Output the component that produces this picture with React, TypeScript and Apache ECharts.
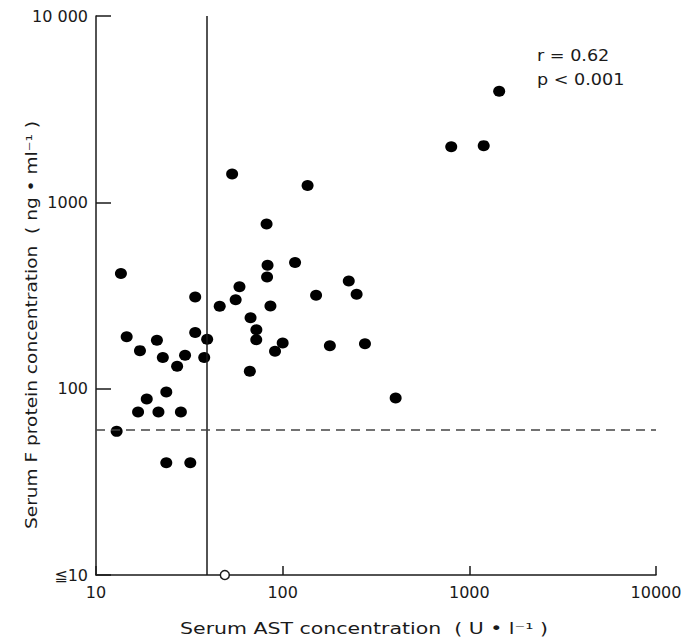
import React, { useEffect, useRef } from "react";
import * as echarts from "echarts";

// Serum AST concentration (U/l) for each patient (filled dots)
const astValues = [
  13.6, 34, 14.6, 21.2, 34, 39.4, 17.2, 22.8, 30, 38, 27.2, 23.8, 18.7, 16.8, 21.6,
  28.5, 12.9, 23.8, 32, 46, 56, 58.7, 83, 82.5, 116.5, 86, 67.3, 72.3, 72.2, 100,
  91, 66.7, 151, 179, 53.6, 136, 82, 226, 249, 276, 403, 800, 1194, 1445,
];
// Serum F protein concentration (ng/ml) for each patient (filled dots)
const proteinValues = [
  415, 310, 190, 182, 200, 184, 160, 147, 151, 147, 132, 96, 88, 75, 75,
  75, 59, 40, 40, 277, 300, 352, 459, 397, 475, 278, 240, 207, 183, 176,
  159, 124, 317, 170, 1420, 1230, 765, 378, 321, 174, 89, 1990, 2015, 3950,
];
// Open circle (value at or below detection limit)
const openAst = [49];
const openProtein = [10];

const xTickLabels = ["10", "100", "1000", "10000"];
const yTickLabels = ["\u226610", "100", "1000", "10 000"];

const astUpperLimit = 39;
const proteinCutoff = 60;
const statsLines = ["r = 0.62", "p < 0.001"];

const xTitle = "Serum AST concentration  ( U \u2022 l\u207B\u00B9 )";
const yTitle = "Serum F protein concentration  ( ng \u2022 ml\u207B\u00B9 )";

const FONT = "DejaVu Sans, sans-serif";
const INK = "#1a1a1a";

export default function App() {
  const ref = useRef<HTMLDivElement>(null);

  useEffect(() => {
    if (!ref.current) return;
    const chart = echarts.init(ref.current, undefined, { renderer: "svg" });
    const filled = astValues.map((x, i) => [x, proteinValues[i]]);
    const open = openAst.map((x, i) => [x, openProtein[i]]);
    const decadeIdx = (v: number) => Math.round(Math.log10(v)) - 1;

    const textStyle = (text: string, size: number, align: string) => ({
      text,
      font: `${size}px ${FONT}`,
      fill: INK,
      textAlign: align,
      align,
      textVerticalAlign: "middle",
      verticalAlign: "middle",
    });

    chart.setOption({
      animation: false,
      backgroundColor: "#ffffff",
      grid: { left: 96, right: 33, top: 16, bottom: 67 },
      xAxis: {
        type: "log",
        logBase: 10,
        min: 10,
        max: 10000,
        splitLine: { show: false },
        minorTick: { show: false },
        axisLine: { show: true, lineStyle: { color: INK, width: 1.5 } },
        axisTick: { show: true, inside: true, length: 9, lineStyle: { color: INK, width: 1.5 } },
        axisLabel: {
          color: INK,
          fontFamily: FONT,
          fontSize: 16,
          margin: 9,
          formatter: (v: number) => xTickLabels[decadeIdx(v)] ?? "",
        },
      },
      yAxis: {
        type: "log",
        logBase: 10,
        min: 10,
        max: 10000,
        splitLine: { show: false },
        minorTick: { show: false },
        axisLine: { show: true, lineStyle: { color: INK, width: 1.5 } },
        axisTick: { show: true, inside: true, length: 15, lineStyle: { color: INK, width: 1.5 } },
        axisLabel: {
          color: INK,
          fontFamily: FONT,
          fontSize: 16,
          margin: 8,
          formatter: (v: number) => yTickLabels[decadeIdx(v)] ?? "",
        },
      },
      series: [
        {
          type: "scatter",
          data: filled,
          symbol: "circle",
          symbolSize: [12, 11],
          itemStyle: { color: "#000000", opacity: 1 },
          z: 3,
          markLine: {
            silent: true,
            symbol: "none",
            label: { show: false },
            data: [
              { xAxis: astUpperLimit, lineStyle: { type: "solid", color: INK, width: 1.5 } },
              { yAxis: proteinCutoff, lineStyle: { type: [9, 6], color: "#444", width: 1.5 } },
            ],
          },
        },
        {
          type: "scatter",
          data: open,
          symbol: "circle",
          symbolSize: 9,
          clip: false,
          itemStyle: { color: "#ffffff", borderColor: INK, borderWidth: 1.5, opacity: 1 },
          z: 1,
        },
      ],
      graphic: [
        {
          type: "text",
          x: 364,
          y: 628,
          scaleX: 1.28,
          style: textStyle(xTitle, 16, "center"),
        },
        {
          type: "text",
          x: 31,
          y: 325,
          rotation: Math.PI / 2,
          scaleX: 1.16,
          style: textStyle(yTitle, 16, "center"),
        },
        {
          type: "text",
          x: 537,
          y: 55,
          scaleX: 1.1,
          style: textStyle(statsLines[0], 16, "left"),
        },
        {
          type: "text",
          x: 537,
          y: 79,
          scaleX: 1.1,
          style: textStyle(statsLines[1], 16, "left"),
        },
      ],
    });

    return () => chart.dispose();
  }, []);

  return (
    <div
      ref={ref}
      style={{ position: "fixed", left: 0, top: 0, width: 689, height: 642, background: "#fff" }}
    />
  );
}
